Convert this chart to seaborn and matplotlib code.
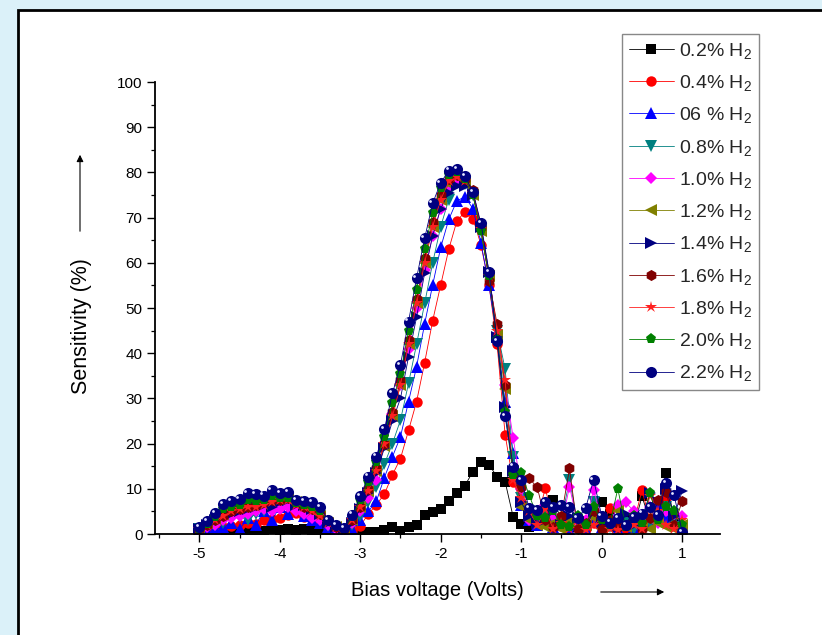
import matplotlib
matplotlib.use("Agg")
import matplotlib.pyplot as plt
import matplotlib.transforms as mtransforms
from matplotlib.patches import Rectangle
from matplotlib.ticker import MultipleLocator
import seaborn as sns

# bias voltage grid (V)
bias = [-5.0, -4.9, -4.8, -4.7, -4.6, -4.5, -4.4, -4.3, -4.2, -4.1,
        -4.0, -3.9, -3.8, -3.7, -3.6, -3.5, -3.4, -3.3, -3.2, -3.1,
        -3.0, -2.9, -2.8, -2.7, -2.6, -2.5, -2.4, -2.3, -2.2, -2.1,
        -2.0, -1.9, -1.8, -1.7, -1.6, -1.5, -1.4, -1.3, -1.2, -1.1,
        -1.0, -0.9, -0.8, -0.7, -0.6, -0.5, -0.4, -0.3, -0.2, -0.1,
        0.0, 0.1, 0.2, 0.3, 0.4, 0.5, 0.6, 0.7, 0.8, 0.9, 1.0]

# sensitivity (%) per H2 concentration
h2_02 = [0.1, 0.2, 0.1, 0.2, 0.3, 0.4, 0.6, 0.8, 0.7, 1.0, 0.8, 1.1, 0.9, 1.0, 0.8, 0.6, 0.3, 0.2, 0.1, 0.2, 0.3,
         0.5, 0.4, 0.8, 1.5, 0.7, 1.5, 2.1, 4.2, 4.9, 5.5, 7.3, 9.1, 10.7, 13.8, 16.0, 15.3, 12.7, 11.6, 3.8, 2.2,
         1.5, 2.5, 4.0, 7.5, 3.0, 2.0, 1.5, 2.8, 3.5, 7.1, 4.5, 2.0, 3.0, 1.5, 8.3, 3.0, 5.5, 13.6, 2.5, 1.0]
h2_04 = [0.8, 1.0, 1.2, 1.5, 1.8, 2.0, 2.5, 2.2, 3.0, 3.3, 3.5, 4.2, 4.6, 3.8, 3.5, 2.8, 1.5, 0.8, 0.5, 0.6, 1.8,
         4.4, 6.5, 8.8, 13.1, 16.7, 22.9, 29.3, 37.9, 47.2, 55.1, 63.0, 69.2, 71.3, 69.8, 64.0, 55.0, 42.0, 22.0, 11.5, 7.0,
         4.0, 3.5, 10.1, 2.5, 1.8, 3.0, 2.0, 1.0, 2.5, 1.5, 5.7, 2.0, 1.0, 2.5, 9.7, 3.0, 5.0, 8.0, 2.0, 1.0]
h2_06 = [0.5, 0.8, 1.0, 1.5, 2.5, 1.0, 3.5, 2.0, 5.0, 3.0, 6.0, 4.5, 7.0, 4.0, 3.0, 2.5, 1.5, 0.8, 0.5, 1.0, 3.0,
         5.0, 7.2, 12.5, 17.1, 21.5, 29.3, 37.0, 46.5, 55.1, 63.4, 69.6, 73.7, 74.6, 72.0, 64.4, 55.0, 43.5, 29.3, 18.0, 6.5,
         3.0, 2.0, 4.0, 1.5, 2.5, 1.0, 2.0, 0.8, 3.0, 1.5, 2.5, 1.0, 2.0, 1.5, 3.0, 2.0, 6.5, 3.5, 5.0, 1.5]
h2_08 = [1.0, 1.5, 2.0, 2.5, 3.5, 3.8, 3.0, 4.5, 5.0, 5.5, 6.0, 6.3, 5.8, 5.0, 4.0, 3.0, 1.8, 1.0, 0.8, 2.0, 4.0,
         7.0, 10.5, 15.5, 20.0, 25.2, 33.3, 42.0, 51.0, 60.0, 68.0, 74.0, 77.6, 77.5, 75.0, 67.0, 57.0, 45.0, 36.5, 17.0, 8.0,
         5.0, 3.0, 4.0, 2.0, 3.0, 12.0, 2.5, 2.0, 7.0, 2.0, 1.5, 3.0, 2.5, 1.0, 4.0, 2.5, 3.5, 6.0, 3.0, 1.5]
h2_10 = [1.0, 1.5, 2.0, 3.0, 3.5, 4.0, 4.5, 5.0, 5.5, 5.0, 5.5, 6.0, 5.0, 4.5, 3.5, 3.0, 2.0, 1.2, 1.0, 2.5, 5.0,
         8.0, 12.0, 20.0, 26.5, 33.0, 41.0, 50.0, 58.5, 66.0, 72.0, 76.5, 78.5, 78.0, 75.5, 67.5, 57.5, 44.0, 33.0, 21.3, 10.0,
         3.0, 5.0, 6.5, 4.0, 2.0, 10.5, 2.5, 3.0, 9.7, 3.5, 2.0, 6.5, 7.0, 5.0, 3.5, 6.0, 2.5, 5.0, 4.5, 4.0]
h2_12 = [1.5, 2.5, 3.5, 4.5, 5.5, 6.0, 6.5, 7.0, 7.5, 8.0, 8.5, 8.0, 7.0, 6.0, 5.0, 4.0, 2.5, 1.5, 1.0, 3.0, 6.0,
         9.5, 14.0, 19.5, 26.0, 33.0, 42.0, 51.0, 60.0, 68.0, 74.0, 77.5, 79.0, 78.0, 75.0, 67.0, 57.0, 44.0, 32.0, 14.0, 6.0,
         3.0, 2.0, 1.5, 2.5, 1.0, 3.0, 1.5, 2.0, 3.5, 1.0, 2.0, 5.0, 1.5, 3.0, 2.0, 1.0, 2.5, 1.5, 1.0, 2.0]
h2_14 = [1.2, 2.0, 3.0, 4.0, 4.5, 5.0, 5.5, 6.0, 6.5, 6.0, 7.0, 7.5, 6.5, 6.5, 5.5, 4.5, 2.5, 1.5, 1.0, 2.5, 5.5,
         9.0, 13.5, 19.0, 25.0, 30.0, 39.2, 48.0, 57.7, 66.0, 72.0, 75.5, 77.0, 77.0, 75.0, 68.0, 58.0, 43.5, 28.0, 14.0, 7.0,
         4.0, 2.5, 3.0, 5.0, 2.0, 4.0, 3.5, 1.5, 5.0, 2.5, 3.0, 1.5, 4.5, 2.0, 3.5, 9.0, 7.0, 10.0, 4.0, 9.5]
h2_16 = [1.0, 2.0, 3.0, 4.0, 5.0, 5.5, 6.0, 6.5, 7.0, 7.5, 7.5, 8.0, 7.0, 6.0, 5.5, 4.5, 3.0, 1.5, 1.0, 3.0, 6.0,
         10.0, 14.5, 20.0, 27.0, 34.0, 43.0, 52.0, 61.0, 69.0, 75.0, 78.5, 79.5, 78.5, 76.0, 68.0, 56.0, 46.5, 33.0, 13.0, 10.5,
         12.3, 10.3, 3.0, 1.5, 4.0, 14.5, 1.0, 2.5, 5.0, 1.0, 3.0, 1.5, 2.0, 4.0, 1.0, 3.5, 7.5, 9.4, 2.0, 7.2]
h2_18 = [1.0, 2.0, 3.0, 4.0, 5.0, 5.5, 6.0, 6.0, 6.5, 7.0, 7.5, 7.5, 6.5, 6.0, 5.0, 4.0, 2.5, 1.5, 1.0, 3.0, 6.0,
         9.5, 14.0, 20.0, 26.0, 33.0, 42.0, 51.0, 60.0, 68.0, 74.0, 78.0, 79.0, 78.0, 75.5, 67.5, 57.0, 45.0, 34.0, 12.0, 8.0,
         5.0, 2.0, 5.5, 1.0, 2.5, 1.0, 3.0, 0.8, 2.0, 3.5, 1.0, 0.8, 1.5, 2.0, 1.0, 8.5, 5.0, 2.0, 1.0, 3.0]
h2_20 = [1.2, 2.3, 3.8, 5.5, 6.0, 6.5, 7.5, 7.3, 7.5, 8.5, 8.0, 8.0, 6.8, 6.5, 6.0, 5.0, 2.8, 1.8, 1.2, 3.8, 7.5,
         11.5, 16.0, 21.5, 29.0, 35.5, 45.0, 54.0, 63.0, 71.0, 76.5, 79.5, 80.0, 78.5, 75.0, 67.0, 57.0, 43.0, 27.0, 13.0, 13.6,
         8.5, 4.0, 3.5, 5.0, 2.0, 1.5, 4.0, 2.0, 6.0, 3.0, 2.0, 10.0, 1.5, 4.0, 2.5, 9.0, 3.0, 6.0, 5.0, 2.0]
h2_22 = [1.6, 2.9, 4.6, 6.6, 7.2, 7.7, 9.0, 8.8, 8.5, 9.7, 9.0, 9.2, 7.5, 7.2, 7.0, 6.0, 3.1, 2.0, 1.3, 4.3, 8.3,
         12.7, 17.1, 23.2, 31.1, 37.4, 47.0, 56.6, 65.4, 73.2, 77.7, 80.4, 80.8, 79.2, 75.7, 68.7, 58.0, 42.7, 26.0, 14.9, 12.0,
         5.7, 5.3, 7.0, 6.0, 6.4, 6.0, 3.5, 5.7, 12.0, 4.0, 2.5, 3.5, 2.0, 3.8, 4.5, 6.0, 4.2, 11.2, 8.6, 0.5]

series = [h2_02, h2_04, h2_06, h2_08, h2_10, h2_12, h2_14, h2_16, h2_18, h2_20, h2_22]
labels = ['0.2% H$_2$', '0.4% H$_2$', '06 % H$_2$', '0.8% H$_2$', '1.0% H$_2$', '1.2% H$_2$',
          '1.4% H$_2$', '1.6% H$_2$', '1.8% H$_2$', '2.0% H$_2$', '2.2% H$_2$']
colors = ['#000000', '#ff0000', '#0000ff', '#008080', '#ff00ff', '#808000',
          '#000080', '#800000', '#ff2020', '#008000', '#000080']
markers = ['s', 'o', '^', 'v', 'D', '<', '>', 'h', '*', 'p', 'o']
msizes = [6.5, 7.5, 8, 8, 6.5, 8, 8, 8, 9, 8, 8]

sns.set_style("ticks")
plt.rcParams['font.family'] = ['Liberation Sans', 'DejaVu Sans']
plt.rcParams['mathtext.fontset'] = 'custom'
plt.rcParams['mathtext.rm'] = 'Liberation Sans'
plt.rcParams['mathtext.it'] = 'Liberation Sans:italic'
plt.rcParams['axes.unicode_minus'] = False

fig = plt.figure(figsize=(8.22, 6.35), dpi=100)
fig.patch.set_facecolor('#dbf1f9')
# white page with black frame
page = Rectangle((18 / 822, -0.1), 1.2, 1.1 - 10 / 635, transform=fig.transFigure,
                 facecolor='white', edgecolor='black', lw=2, zorder=-5)
fig.add_artist(page)

ax = fig.add_axes([155 / 822, 1 - 534 / 635, 565 / 822, 452 / 635])
ax.set_facecolor('none')

handles = []
for vals, lab, col, mk, ms in zip(series, labels, colors, markers, msizes):
    sns.lineplot(x=bias, y=vals, color=col, marker=mk, markersize=ms,
                 markeredgewidth=0, linewidth=0.6, ax=ax, label=lab, legend=False)
    handles.append(ax.lines[-1])

# specular spot on the 2.2% balls
sns.lineplot(x=bias, y=h2_22, color='#e4e4ff', marker='o', markersize=2.0,
             markeredgewidth=0, linestyle='', ax=ax, legend=False)
spot = ax.lines[-1]
spot.set_transform(ax.transData + mtransforms.ScaledTranslation(-1.6 / 72, 1.6 / 72, fig.dpi_scale_trans))

ax.set_xlim(-5.55, 1.47)
ax.set_ylim(0, 100)
ax.xaxis.set_major_locator(MultipleLocator(1))
ax.xaxis.set_minor_locator(MultipleLocator(0.5))
ax.yaxis.set_major_locator(MultipleLocator(10))
ax.yaxis.set_minor_locator(MultipleLocator(5))
ax.tick_params(which='major', direction='out', length=6, width=1, pad=3,
               labelsize=11, color='black', labelcolor='black')
ax.tick_params(which='minor', direction='out', length=3, width=0.9, color='black')
sns.despine(ax=ax)
for s in ['left', 'bottom']:
    ax.spines[s].set_color('black')
    ax.spines[s].set_linewidth(1.3)

ax.set_xlabel('Bias voltage (Volts)', fontsize=14.5, color='black')
ax.set_ylabel('Sensitivity (%)', fontsize=15.5, color='black')
ax.xaxis.set_label_coords(0.5, -0.105)
ax.yaxis.set_label_coords(-0.112, 0.46)

# direction arrows
arrow = dict(arrowstyle='-|>', color='black', lw=0.8, mutation_scale=10)
ax.annotate('', xy=(80 / 822, 1 - 152 / 635), xytext=(80 / 822, 1 - 234 / 635),
            xycoords='figure fraction', textcoords='figure fraction', arrowprops=arrow)
ax.annotate('', xy=(667 / 822, 1 - 592 / 635), xytext=(598 / 822, 1 - 592 / 635),
            xycoords='figure fraction', textcoords='figure fraction', arrowprops=arrow)

leg = ax.legend(handles, labels, loc='upper left', bbox_to_anchor=(622 / 822, 1 - 34 / 635),
                bbox_transform=fig.transFigure, fontsize=14, frameon=True, fancybox=False,
                edgecolor='#888888', framealpha=1, borderaxespad=0, borderpad=0.35,
                handlelength=2.3, handletextpad=0.3, labelspacing=0.63, numpoints=1)
leg.get_frame().set_linewidth(1.0)

fig.savefig('out.png', dpi=100, facecolor=fig.get_facecolor())
